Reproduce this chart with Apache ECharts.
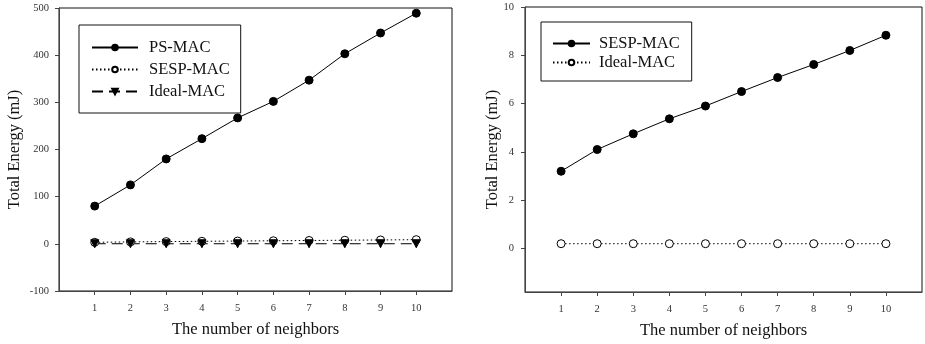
<!DOCTYPE html>
<html>
<head>
<meta charset="utf-8">
<script src="https://cdn.jsdelivr.net/npm/echarts@6/dist/echarts.min.js"></script>
<style>
  html, body { margin: 0; padding: 0; background: #fff; }
  #wrap { position: relative; width: 925px; height: 344px; }
  #left { position: absolute; left: 0; top: 0; width: 462px; height: 344px; }
  #right { position: absolute; left: 462px; top: 0; width: 463px; height: 344px; }
</style>
</head>
<body>
<div id="wrap"><div id="left"></div><div id="right"></div></div>
<script>
// Number of neighbors on the x axis
const neighbors = [1, 2, 3, 4, 5, 6, 7, 8, 9, 10];

// Total energy (mJ) per protocol
const psMac    = [80, 125, 180, 223, 267, 302, 347, 403, 447, 489];
const sespMac  = [3.2, 4.1, 4.75, 5.37, 5.9, 6.5, 7.08, 7.62, 8.2, 8.83];
const idealMac = [0.2, 0.2, 0.2, 0.2, 0.2, 0.2, 0.2, 0.2, 0.2, 0.2];

// Tick labels
const xTicks = [1, 2, 3, 4, 5, 6, 7, 8, 9, 10];
const yTicksRight = [0, 2, 4, 6, 8, 10];

const FONT = '"Liberation Serif", "Times New Roman", serif';
const pairs = ys => neighbors.map((x, i) => [x, ys[i]]);

function xAxisCfg() {
  return {
    type: 'value', min: 0, max: 11,
    name: 'The number of neighbors', nameLocation: 'middle', nameGap: 30, nameMoveOverlap: false,
    nameTextStyle: { fontFamily: FONT, fontSize: 16.5, color: '#111' },
    axisLine: { onZero: false, lineStyle: { color: '#444', width: 1 } },
    axisTick: { show: true, length: 4, customValues: xTicks, lineStyle: { color: '#444' } },
    axisLabel: { customValues: xTicks, margin: 12, fontFamily: FONT, fontSize: 10.5, color: '#333' },
    splitLine: { show: false }
  };
}

function yAxisCfg(nameGap, extra) {
  return Object.assign({
    type: 'value',
    name: 'Total Energy (mJ)', nameLocation: 'middle', nameGap: nameGap, nameMoveOverlap: false,
    nameTextStyle: { fontFamily: FONT, fontSize: 16.5, color: '#111' },
    axisLine: { show: true, onZero: false, lineStyle: { color: '#444', width: 1 } },
    axisTick: { show: true, length: 4, lineStyle: { color: '#444' } },
    axisLabel: { margin: 10, fontFamily: FONT, fontSize: 10.5, color: '#333' },
    splitLine: { show: false }
  }, extra);
}

function legendCfg(left, top, names, padding, itemWidth, gap, textPad) {
  return {
    orient: 'vertical', left: left, top: top, data: names,
    backgroundColor: '#fff', borderColor: '#111', borderWidth: 1,
    padding: padding, itemGap: gap, itemWidth: itemWidth, itemHeight: 7,
    textStyle: { fontFamily: FONT, fontSize: 16.5, color: '#111', padding: [0, 0, 0, textPad] },
    selectedMode: false
  };
}

const left = echarts.init(document.getElementById('left'));
left.setOption({
  animation: false,
  grid: { left: 59, top: 8, width: 393, height: 283, outerBoundsMode: 'none', containLabel: false,
          show: true, borderColor: '#111', borderWidth: 1 },
  xAxis: xAxisCfg(),
  yAxis: yAxisCfg(36, { min: -100, max: 500, interval: 100 }),
  legend: legendCfg(79, 25, ['PS-MAC', 'SESP-MAC', 'Ideal-MAC'], [14, 11, 13, 12], 46, 5, 6),
  series: [
    {
      name: 'PS-MAC', type: 'line', data: pairs(psMac),
      symbol: 'circle', symbolSize: 8,
      lineStyle: { color: '#000', width: 1 },
      itemStyle: { color: '#000', borderColor: '#000', borderWidth: 1 }
    },
    {
      name: 'SESP-MAC', type: 'line', data: pairs(sespMac),
      symbol: 'circle', symbolSize: 8,
      lineStyle: { color: '#000', width: 1, type: [1.5, 2.5] },
      itemStyle: { color: '#fff', borderColor: '#000', borderWidth: 1 }
    },
    {
      name: 'Ideal-MAC', type: 'line', data: pairs(idealMac),
      symbol: 'triangle', symbolRotate: 180, symbolSize: 8,
      lineStyle: { color: '#000', width: 1, type: [11, 6] },
      itemStyle: { color: '#000', borderColor: '#000', borderWidth: 1 }
    }
  ]
});

const right = echarts.init(document.getElementById('right'));
right.setOption({
  animation: false,
  grid: { left: 63, top: 7, width: 397, height: 285, outerBoundsMode: 'none', containLabel: false,
          show: true, borderColor: '#111', borderWidth: 1 },
  xAxis: xAxisCfg(),
  yAxis: yAxisCfg(24, {
    min: -1.8, max: 10,
    axisTick: { show: true, length: 4, customValues: yTicksRight, lineStyle: { color: '#444' } },
    axisLabel: { customValues: yTicksRight, margin: 11, fontFamily: FONT, fontSize: 10.5, color: '#333' }
  }),
  legend: legendCfg(79, 22, ['SESP-MAC', 'Ideal-MAC'], [13, 12, 10, 11], 37, 2, 4),
  series: [
    {
      name: 'SESP-MAC', type: 'line', data: pairs(sespMac),
      symbol: 'circle', symbolSize: 8,
      lineStyle: { color: '#000', width: 1 },
      itemStyle: { color: '#000', borderColor: '#000', borderWidth: 1 }
    },
    {
      name: 'Ideal-MAC', type: 'line', data: pairs(idealMac),
      symbol: 'circle', symbolSize: 8,
      lineStyle: { color: '#000', width: 1, type: [1.5, 2.5] },
      itemStyle: { color: '#fff', borderColor: '#000', borderWidth: 1 }
    }
  ]
});
</script>
</body>
</html>
